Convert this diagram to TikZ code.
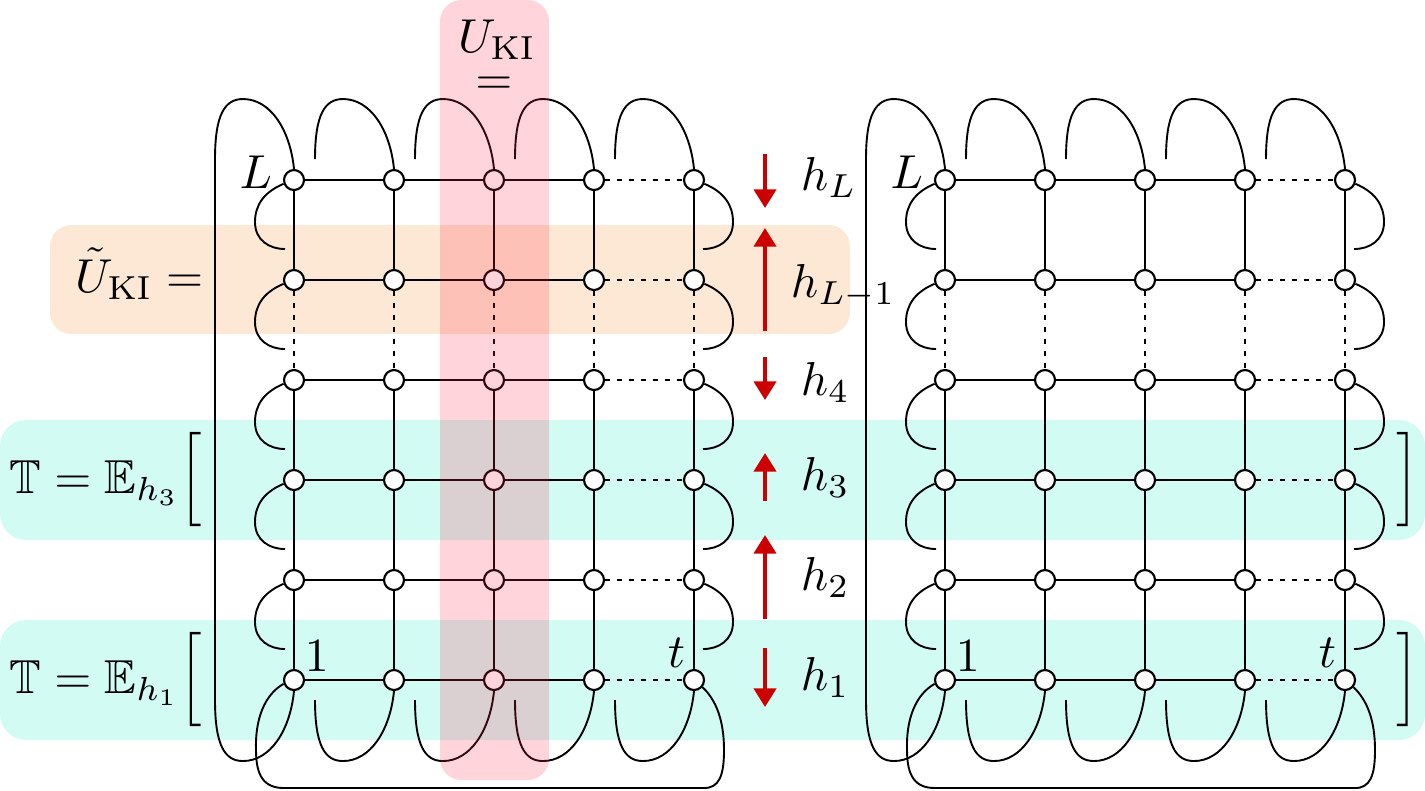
\documentclass[tikz,border=0pt]{standalone}
\usepackage{amssymb}
\usepackage{graphicx}
\usetikzlibrary{arrows.meta}
\definecolor{bandcyan}{RGB}{210,251,244}
\definecolor{bandorange}{RGB}{253,232,213}
\definecolor{colpink}{RGB}{255,40,70}
\definecolor{arrred}{RGB}{204,0,0}
\tikzset{
  site/.style={circle, draw, fill=white, minimum size=4.2pt, inner sep=0pt, line width=0.45pt},
  dotline/.style={dash pattern=on 1.1pt off 1.4pt},
  harrow/.style={arrred, line width=0.85pt, -{Triangle[length=3.9pt,width=4.6pt]}},
  band/.style={rounded corners=5.5pt},
}
\newcommand\bigbrack[1]{\scalebox{1}[1.1]{$\Big#1$}}
\newcommand\drawgrid[2]{%
  \foreach \i in {0,...,4}{\foreach \j in {0,...,5}{
    \node[site] (#2-\i-\j) at ({#1+100*\i},{180+100*\j}) {};}}
  \foreach \j in {0,...,5}{
    \foreach \i/\k in {0/1,1/2,2/3}{\draw (#2-\i-\j) -- (#2-\k-\j);}
    \draw[dotline] (#2-3-\j) -- (#2-4-\j);}
  \foreach \i in {0,...,4}{
    \draw (#2-\i-0) -- (#2-\i-1);
    \draw[dotline] (#2-\i-1) -- (#2-\i-2);
    \foreach \j/\k in {2/3,3/4,4/5}{\draw (#2-\i-\j) -- (#2-\i-\k);}}
  \foreach \i in {1,...,4}{
    \begin{scope}[shift={(#2-\i-0)}]
      \draw (#2-\i-0.north) .. controls (-4,-51) and (-24,-81) .. (-51,-81)
        .. controls (-69,-81) and (-79,-66) .. (-79,-21);
    \end{scope}
    \begin{scope}[shift={(#2-\i-5)}]
      \draw (#2-\i-5.south) .. controls (-4,51) and (-24,81) .. (-51,81)
        .. controls (-69,81) and (-79,66) .. (-79,20);
    \end{scope}}
  \begin{scope}[shift={(#2-0-0)}]
    \draw (#2-0-0.north) .. controls (-4,-51) and (-24,-81) .. (-51,-81)
      .. controls (-69,-81) and (-79,-66) .. (-79,-21) -- (-79,520)
      .. controls (-79,566) and (-69,581) .. (-51,581)
      .. controls (-24,581) and (-4,551) .. (#2-0-5.south);
  \end{scope}
  \begin{scope}[shift={(#2-0-5)}]
    \draw (#2-0-5.200) .. controls (-30,15) and (-39,40) .. (-38,70)
      .. controls (-38,96) and (-30,108) .. (-10,108) -- (410,108)
      .. controls (425,108) and (430,96) .. (430,70)
      .. controls (430,40) and (422,20) .. (#2-4-5.-40);
  \end{scope}
  \foreach \j in {0,...,4}{
    \begin{scope}[shift={(#2-0-\j)}]
      \draw (#2-0-\j.200) .. controls (-30,12) and (-39,25) .. (-39,42)
        .. controls (-39,60) and (-25,69) .. (-9,69);
    \end{scope}
    \begin{scope}[shift={(#2-4-\j)}]
      \draw (#2-4-\j.-20) .. controls (30,12) and (39,25) .. (39,42)
        .. controls (39,60) and (25,69) .. (9,69);
    \end{scope}}
}
\begin{document}
\begin{tikzpicture}[x=0.21pt,y=-0.21pt]
\useasboundingbox (0,0) rectangle (1425,790);
% background bands
\fill[bandcyan, band] (0,420) rectangle (1425,540);
\fill[bandcyan, band] (0,620) rectangle (1425,740);
\fill[bandorange, rounded corners=4.5pt] (50,225) rectangle (850,334);
% grids
\drawgrid{294}{A}
\drawgrid{945}{B}
% pink column overlay
\fill[colpink, opacity=0.2, rounded corners=4.5pt] (440,0) rectangle (549,780);
% labels on grids
\node[anchor=base east, inner sep=0pt] (lLA) at (273,188) {$L$};
\node[anchor=base west, inner sep=0pt] (l1A) at (304,671) {$1$};
\node[anchor=base east, inner sep=0pt] (ltA) at (686,667) {$t$};
\node[anchor=base east, inner sep=0pt] (lLB) at (924,188) {$L$};
\node[anchor=base west, inner sep=0pt] (l1B) at (955,671) {$1$};
\node[anchor=base east, inner sep=0pt] (ltB) at (1337,667) {$t$};
% top label
\node[anchor=base, inner sep=0pt] (UKI) at (497,52) {$U_{\mathrm{KI}}$};
\node[inner sep=0pt] (UKIeq) at (494,86) {$=$};
% left labels
\node[anchor=base east, inner sep=0pt] (tU) at (204,292) {$\tilde U_{\mathrm{KI}} =$};
\node[anchor=east, inner sep=0pt] (T3) at (203,480) {$\mathbb{T}=\mathbb{E}_{h_3}$\bigbrack{[}};
\node[anchor=east, inner sep=0pt] (T1) at (203,680) {$\mathbb{T}=\mathbb{E}_{h_1}$\bigbrack{[}};
\node[anchor=east, inner sep=0pt] (R3) at (1420,480) {\bigbrack{]}};
\node[anchor=east, inner sep=0pt] (R1) at (1420,680) {\bigbrack{]}};
% h labels
\node[anchor=base west, inner sep=0pt] (hL) at (800,190) {$h_L$};
\node[anchor=base west, inner sep=0pt] (hLm) at (790,297) {$h_{L-1}$};
\node[anchor=base west, inner sep=0pt] (h4) at (800,395) {$h_4$};
\node[anchor=base west, inner sep=0pt] (h3) at (800,490) {$h_3$};
\node[anchor=base west, inner sep=0pt] (h2) at (800,590) {$h_2$};
\node[anchor=base west, inner sep=0pt] (h1) at (800,690) {$h_1$};
% arrows
\coordinate (aLs) at (765,154); \coordinate (aLe) at (765,208);
\coordinate (aMs) at (765,331); \coordinate (aMe) at (765,228);
\coordinate (a4s) at (765,357); \coordinate (a4e) at (765,400);
\coordinate (a3s) at (765,501); \coordinate (a3e) at (765,453);
\coordinate (a2s) at (765,619); \coordinate (a2e) at (765,535);
\coordinate (a1s) at (765,648); \coordinate (a1e) at (765,707);
\draw[harrow] (aLs) -- (aLe);
\draw[harrow] (aMs) -- (aMe);
\draw[harrow] (a4s) -- (a4e);
\draw[harrow] (a3s) -- (a3e);
\draw[harrow] (a2s) -- (a2e);
\draw[harrow] (a1s) -- (a1e);
\end{tikzpicture}
\end{document}
